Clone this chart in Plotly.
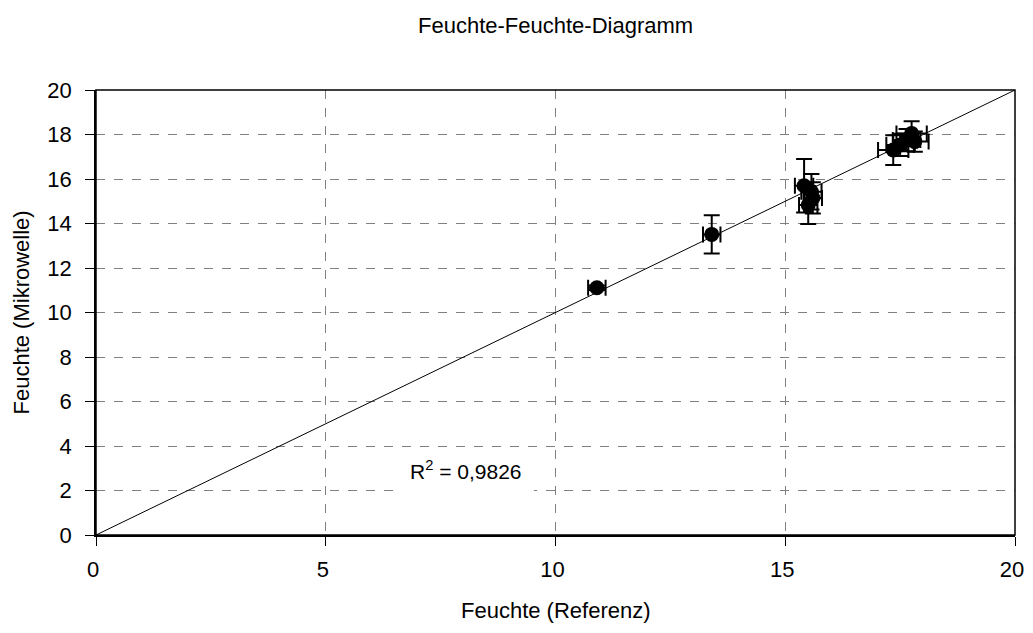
import plotly.graph_objects as go

# Data
x_ref = [10.90, 13.40, 15.41, 15.57, 15.50, 15.60, 17.35, 17.50, 17.64, 17.75, 17.82]
y_mw = [11.11, 13.51, 15.70, 15.43, 14.83, 15.15, 17.30, 17.53, 17.75, 18.05, 17.68]
x_err = [0.19, 0.19, 0.20, 0.22, 0.20, 0.20, 0.33, 0.30, 0.30, 0.33, 0.30]
y_err = [0.10, 0.86, 1.20, 0.80, 0.85, 0.70, 0.67, 0.50, 0.50, 0.55, 0.45]
line_x = [0, 20]
line_y = [0, 20]
r2_text = "R<sup>2</sup> = 0,9826"
title_text = "Feuchte-Feuchte-Diagramm"
x_title = "Feuchte (Referenz)"
y_title = "Feuchte (Mikrowelle)"

font = "Liberation Sans, Arial, sans-serif"
FS = 22

fig = go.Figure()
fig.add_trace(go.Scatter(x=line_x, y=line_y, mode="lines",
                         line=dict(color="black", width=1), showlegend=False,
                         hoverinfo="skip"))
fig.add_trace(go.Scatter(
    x=x_ref, y=y_mw, mode="markers",
    marker=dict(color="black", size=15),
    error_x=dict(type="data", array=x_err, color="black", thickness=2, width=8),
    error_y=dict(type="data", array=y_err, color="black", thickness=2, width=8),
    showlegend=False))

# white label box hiding the gridline behind the R² text
fig.add_shape(type="rect", xref="x", yref="y", x0=6.62, x1=9.53, y0=1.6, y1=3.8,
              fillcolor="white", line=dict(width=0), layer="between")
fig.add_annotation(x=8.05, y=2.9, xref="x", yref="y", text=r2_text,
                   showarrow=False,
                   font=dict(family=font, size=21, color="black"))

# plot frame
fig.add_shape(type="rect", xref="paper", yref="paper", x0=0, y0=0, x1=1, y1=1,
              line=dict(color="black", width=1.5), layer="above")

# titles (page coordinates converted to paper units: plot area 96..1015 x 90..535)
fig.add_annotation(xref="paper", yref="paper", x=0.5, y=(535 - 25) / 445,
                   text=title_text, showarrow=False, xanchor="center", yanchor="middle",
                   font=dict(family=font, size=FS, color="black"))
fig.add_annotation(xref="paper", yref="paper", x=0.5, y=-(610 - 535) / 445,
                   text=x_title, showarrow=False, xanchor="center", yanchor="middle",
                   font=dict(family=font, size=FS, color="black"))
fig.add_annotation(xref="paper", yref="paper", x=(21 - 96) / 919, y=0.5,
                   text=y_title, showarrow=False, xanchor="center", yanchor="middle",
                   textangle=-90, font=dict(family=font, size=FS, color="black"))

axis_common = dict(
    range=[0, 20], showgrid=True, gridcolor="#808080", griddash="dash",
    gridwidth=1, zeroline=False, showline=True, linecolor="black", linewidth=1.5,
    ticks="outside", ticklen=9, tickcolor="black", tickwidth=1, automargin=False,
    tickfont=dict(family=font, size=FS, color="black"),
)

# the page body adds an 8 px margin; the figure is sized so the page does not
# scroll and the plot area sits at 96..1015 x 90..535 in the window
fig.update_layout(
    width=1025, height=617,
    margin=dict(l=88, r=18, t=82, b=90),
    paper_bgcolor="white", plot_bgcolor="white",
    xaxis=dict(**axis_common, dtick=5, ticklabelstandoff=5, ticklabelshift=-3),
    yaxis=dict(**axis_common, dtick=2, ticklabelstandoff=9),
)

fig.write_html("out.html")
